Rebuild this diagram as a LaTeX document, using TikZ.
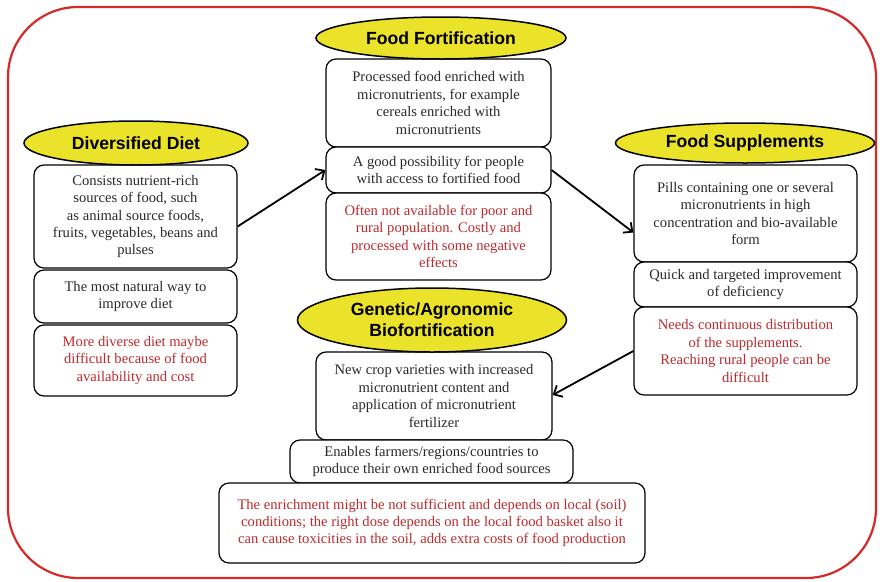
\documentclass[tikz,border=0pt]{standalone}
\usepackage{fontspec}
\setmainfont{Liberation Serif}
\newfontfamily\headfont{Liberation Sans}
\usetikzlibrary{shapes.geometric,arrows.meta}

\definecolor{HeadYellow}{HTML}{EBE32A}
\definecolor{FrameRed}{HTML}{D42A2A}
\definecolor{WarnRed}{HTML}{BE2A2E}
\definecolor{BodyGray}{HTML}{2A2A2A}

\tikzset{
    title/.style={ellipse, draw, line width=1.5pt, fill=HeadYellow, inner sep=0pt,
        align=center, font=\headfont\bfseries\fontsize{17.6}{21}\selectfont},
    infobox/.style={draw, rounded corners=10pt, line width=1.2pt, fill=white,
        inner sep=0pt, align=center, text=BodyGray,
        font=\fontsize{14.6}{17.4}\selectfont},
    warnbox/.style={infobox, text=WarnRed},
    link/.style={line width=1.8pt, -{Straight Barb[length=7pt,width=13pt,line width=1.8pt]}}
}

\begin{document}
\begin{tikzpicture}[x=1pt,y=-1pt]
    \useasboundingbox (0,0) rectangle (880,581);
    % frame
    \draw[FrameRed, line width=2.2pt, rounded corners=70pt] (8,7) rectangle (876,578);

    % diversified diet
    \node[infobox, minimum width=203pt, minimum height=103pt] (dd1) at (135.5,216.5)
        {Consists nutrient-rich\\ sources of food, such\\ as animal source foods,\\ fruits, vegetables, beans and\\ pulses};
    \node[infobox, minimum width=203pt, minimum height=53pt] (dd2) at (135.5,296.5)
        {The most natural way to\\ improve diet};
    \node[warnbox, minimum width=203pt, minimum height=71pt] (dd3) at (135.5,360.5)
        {More diverse diet maybe\\ difficult because of food\\ availability and cost};
    \node[title, minimum width=224pt, minimum height=44pt] (dd) at (136,143) {Diversified Diet};

    % food fortification
    \node[infobox, minimum width=225pt, minimum height=88pt] (ff1) at (438.5,103)
        {Processed food enriched with\\ micronutrients, for example\\ cereals enriched with\\ micronutrients};
    \node[infobox, minimum width=225pt, minimum height=46pt] (ff2) at (438.5,170)
        {A good possibility for people\\ with access to fortified food};
    \node[warnbox, minimum width=225pt, minimum height=87pt] (ff3) at (438.5,236.5)
        {Often not available for poor and\\ rural population. Costly and\\ processed with some negative\\ effects};
    \node[title, minimum width=250pt, minimum height=42pt] (ff) at (441,38) {Food Fortification};

    % food supplements
    \node[infobox, minimum width=223pt, minimum height=97pt] (fs1) at (745.5,213.5)
        {Pills containing one or several\\ micronutrients in high\\ concentration and bio-available\\ form};
    \node[infobox, minimum width=223pt, minimum height=45pt] (fs2) at (745.5,284.5)
        {Quick and targeted improvement\\ of deficiency};
    \node[warnbox, minimum width=223pt, minimum height=88pt] (fs3) at (745.5,351)
        {Needs continuous distribution\\ of the supplements.\\ Reaching rural people can be\\ difficult};
    \node[title, minimum width=259pt, minimum height=40pt] (fs) at (745,143) {Food Supplements};

    % biofortification
    \node[infobox, minimum width=236pt, minimum height=88pt] (gb1) at (434,396)
        {New crop varieties with increased\\ micronutrient content and\\ application of micronutrient\\ fertilizer};
    \node[infobox, minimum width=283pt, minimum height=43pt] (gb2) at (431.5,461.5)
        {Enables farmers/regions/countries to\\ produce their own enriched food sources};
    \node[warnbox, minimum width=426pt, minimum height=80pt] (gb3) at (432,523)
        {The enrichment might be not sufficient and depends on local (soil)\\ conditions; the right dose depends on the local food basket also it\\ can cause toxicities in the soil, adds extra costs of food production};
    \node[title, minimum width=269pt, minimum height=64pt] (gb) at (432,320) {Genetic/Agronomic\\ Biofortification};

    % links
    \draw[link] ([yshift=-10pt]dd1.east) -- (ff2.west);
    \draw[link] (ff2.east) -- ([yshift=-19pt]fs1.west);
    \draw[link] (fs3.west) -- ([yshift=1pt]gb1.east);
\end{tikzpicture}
\end{document}
